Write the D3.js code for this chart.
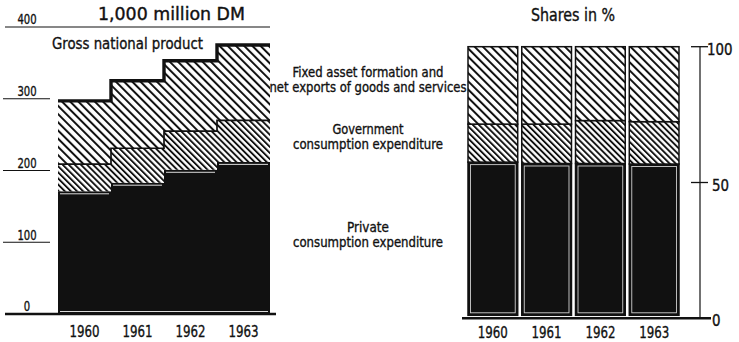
<!DOCTYPE html>
<html><head><meta charset="utf-8">
<script src="https://cdn.jsdelivr.net/npm/d3@7"></script>
<style>
html,body{margin:0;padding:0;background:#fff;}
svg{display:block;}
text{font-family:"DejaVu Sans Condensed","DejaVu Sans",sans-serif;font-stretch:condensed;fill:#111;stroke:#111;stroke-width:0.35px;}
</style></head><body>
<svg id="chart" width="739" height="342"></svg>
<script>
// Use of the gross national product, 1960-1963
const years = ["1960", "1961", "1962", "1963"];
// 1,000 million DM
const privateConsumption = [171, 183, 201, 212];
const governmentConsumption = [38, 48, 54, 58];
const fixedAssetsAndExports = [88, 94, 98, 105];
// shares in %
const privateShare = [57.5, 57.0, 57.0, 56.8];
const governmentShare = [14.0, 14.5, 15.8, 15.6];
const fixedShare = [28.5, 28.5, 27.2, 27.6];
const amountTicks = [0, 100, 200, 300, 400];
const shareTicks = [0, 50, 100];

const INK = "#111";
const svg = d3.select("#chart");
const defs = svg.append("defs");

// condensed lettering: squeeze each string to its set width
function label(g, str, px, py, size, width, anchor) {
  const t = g.append("text").attr("x", px).attr("y", py)
    .attr("font-size", size).attr("text-anchor", anchor || "start").text(str);
  if (width) t.attr("textLength", width).attr("lengthAdjust", "spacingAndGlyphs");
  return t;
}

// diagonal "\" hatching
function hatch(id, gap, width) {
  const p = defs.append("pattern").attr("id", id)
    .attr("patternUnits", "userSpaceOnUse")
    .attr("width", gap).attr("height", gap)
    .attr("patternTransform", "rotate(-45)");
  p.append("rect").attr("width", gap).attr("height", gap).attr("fill", "#fff");
  p.append("rect").attr("width", width).attr("height", gap).attr("fill", INK);
}
hatch("hatchFixed", 5.8, 2.0);
hatch("hatchGov", 4.3, 1.9);

const keys = ["private", "government", "fixed"];
const fills = { private: INK, government: "url(#hatchGov)", fixed: "url(#hatchFixed)" };

/* ---------- left: absolute values, stepped areas ---------- */
const x = d3.scaleBand().domain(years).range([58, 270]);
const y = d3.scaleLinear().domain([0, 400]).range([314, 27]);

const rows = years.map((yr, i) => ({
  year: yr,
  private: privateConsumption[i],
  government: governmentConsumption[i],
  fixed: fixedAssetsAndExports[i]
}));
const series = d3.stack().keys(keys)(rows);

// step points: one per year, plus a closing point at the right edge
function stepPoints(s) {
  const pts = s.map((d, i) => ({ x: x(years[i]), y0: d[0], y1: d[1] }));
  const last = s[s.length - 1];
  pts.push({ x: x(years[years.length - 1]) + x.step(), y0: last[0], y1: last[1] });
  return pts;
}

const area = d3.area().curve(d3.curveStepAfter)
  .x(d => d.x).y0(d => y(d.y0)).y1(d => y(d.y1));
const topLine = d3.line().curve(d3.curveStepAfter)
  .x(d => d.x).y(d => y(d.y1));

const left = svg.append("g");
series.forEach(s => {
  left.append("path").attr("d", area(stepPoints(s))).attr("fill", fills[s.key]);
});
// boundary between government and fixed asset formation
left.append("path").attr("d", topLine(stepPoints(series[1])))
  .attr("fill", "none").attr("stroke", INK).attr("stroke-width", 1.7);
// gross national product
left.append("path").attr("d", topLine(stepPoints(series[2])))
  .attr("fill", "none").attr("stroke", INK).attr("stroke-width", 3.4);

// thin white rules inside the solid block
series[0].forEach((d, i) => {
  const x0 = x(years[i]);
  left.append("line")
    .attr("x1", x0 + 2).attr("x2", x0 + x.step() - 2)
    .attr("y1", y(d[1]) + 2.5).attr("y2", y(d[1]) + 2.5)
    .attr("stroke", "#fff").attr("stroke-width", 1).attr("opacity", 0.85);
});
left.append("line")
  .attr("x1", x.range()[0] + 2).attr("x2", x.range()[1] - 2)
  .attr("y1", y(0) - 2.5).attr("y2", y(0) - 2.5)
  .attr("stroke", "#fff").attr("stroke-width", 1).attr("opacity", 0.85);

// value axis: labels sitting on short rules
amountTicks.forEach(t => {
  let x1 = 3, x2 = 50, w = 1.2;
  if (t === 0) { x1 = 5; x2 = 276; w = 2.6; }
  if (t === 400) { x1 = 5; x2 = 270; w = 1.2; }
  left.append("line").attr("x1", x1).attr("x2", x2)
    .attr("y1", y(t)).attr("y2", y(t))
    .attr("stroke", INK).attr("stroke-width", w);
  label(left, String(t), 27, y(t) - 2.6, 14.5, String(t).length * 6.4, "middle");
});

years.forEach(yr => {
  label(left, yr, x(yr) + x.step() / 2, 337, 16, 30, "middle");
});

label(left, "1,000 million DM", 98, 19.5, 17, 147);
label(left, "Gross national product", 52, 49, 16.5, 151);

/* ---------- middle: series labels ---------- */
const labels = [
  ["Fixed asset formation and", 76.5, 151],
  ["net exports of goods and services", 92, 197],
  ["Government", 133.5, 71],
  ["consumption expenditure", 148.5, 150],
  ["Private", 231.5, 42],
  ["consumption expenditure", 247, 150]
];
labels.forEach(([t, yy, w]) => label(svg, t, 368, yy, 14.5, w, "middle"));

/* ---------- right: shares, 100% bars ---------- */
const xr = d3.scaleBand().domain(years).range([468, 679]).paddingInner(0.075);
const yr = d3.scaleLinear().domain([0, 100]).range([318.3, 46.7]);
const barFoot = 3; // bars stop just above the base rule

const right = svg.append("g");
const shareRows = years.map((yy, i) => ({
  year: yy,
  private: privateShare[i],
  government: governmentShare[i],
  fixed: fixedShare[i]
}));
const shareSeries = d3.stack().keys(keys)(shareRows);

shareSeries.forEach(s => {
  s.forEach((d, i) => {
    const bx = xr(years[i]), bw = xr.bandwidth();
    const top = yr(d[1]);
    const bottom = s.key === "private" ? yr(d[0]) - barFoot : yr(d[0]);
    right.append("rect").attr("x", bx).attr("y", top)
      .attr("width", bw).attr("height", bottom - top)
      .attr("fill", fills[s.key])
      .attr("stroke", INK).attr("stroke-width", 1.5);
    if (s.key === "private") {
      right.append("rect").attr("x", bx + 2.5).attr("y", top + 2.5)
        .attr("width", bw - 5).attr("height", bottom - top - 5)
        .attr("fill", "none").attr("stroke", "#fff")
        .attr("stroke-width", 0.9).attr("opacity", 0.8);
    }
  });
});

// share axis on the right
right.append("line").attr("x1", 700).attr("x2", 700)
  .attr("y1", yr(100)).attr("y2", yr(0))
  .attr("stroke", INK).attr("stroke-width", 1.2);
shareTicks.forEach(t => {
  if (t === 0) {
    right.append("line").attr("x1", 462).attr("x2", 711)
      .attr("y1", yr(0)).attr("y2", yr(0))
      .attr("stroke", INK).attr("stroke-width", 2.6);
  } else {
    right.append("line").attr("x1", 691).attr("x2", 708)
      .attr("y1", yr(t)).attr("y2", yr(t))
      .attr("stroke", INK).attr("stroke-width", 1.3);
  }
  const s = String(t);
  label(right, s, s.length === 3 ? 707 : 712, yr(t) + 8, 16, s.length * 8.5);
});

years.forEach(yy => {
  label(right, yy, xr(yy) + xr.bandwidth() / 2, 338, 16, 30, "middle");
});

label(right, "Shares in %", 531, 21, 17, 84);
</script>
</body></html>
